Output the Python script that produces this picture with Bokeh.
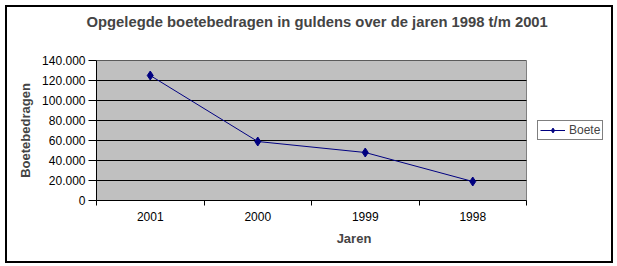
from bokeh.plotting import figure
from bokeh.models import FixedTicker, Legend, LegendItem, Title
from bokeh.embed import file_html
from bokeh.resources import INLINE

# Data
years = ["2001", "2000", "1999", "1998"]
boete = [125000, 59000, 48000, 19000]
y_ticks = [0, 20000, 40000, 60000, 80000, 100000, 120000, 140000]
y_tick_labels = ["0", "20.000", "40.000", "60.000", "80.000", "100.000", "120.000", "140.000"]
title_text = "Opgelegde boetebedragen in guldens over de jaren 1998 t/m 2001"

FONT = "Liberation Sans"
n = len(years)
xs = [i + 0.5 for i in range(n)]
y_max = y_ticks[-1]

# Layout: plot area 430 px wide, frame extended to the right to host the legend
PLOT_W = 430
FRAME_W = 515
x_end = n * FRAME_W / PLOT_W

p = figure(width=617, height=266, output_backend="svg", toolbar_location=None,
           x_range=(0, x_end), y_range=(0, y_max),
           min_border_left=96, min_border_right=617 - 96 - FRAME_W,
           min_border_top=60, min_border_bottom=66)

p.title.text = ""
# spacer between the frame and the title (nearest to the frame)
p.add_layout(Title(text=" ", text_font_size="2px", standoff=27), "above")
p.add_layout(Title(text=title_text, align="left", offset=-10, standoff=0,
                   text_font=FONT, text_font_size="14.8px", text_font_style="bold"),
             "above")

p.background_fill_color = "white"
p.border_fill_color = "white"
p.outline_line_color = None
p.xgrid.visible = False
p.ygrid.visible = False

# plot area (gray) and gridlines
p.quad(left=[0], right=[n], bottom=[0], top=[y_max],
       fill_color="#C0C0C0", line_color="#808080", line_width=1)
p.segment(x0=[0] * len(y_ticks), x1=[n] * len(y_ticks), y0=y_ticks, y1=y_ticks,
          line_color="black", line_width=1)

# y axis
p.yaxis.ticker = FixedTicker(ticks=y_ticks)
p.yaxis.major_label_overrides = {t: l for t, l in zip(y_ticks, y_tick_labels)}
p.yaxis.minor_tick_line_color = None
p.yaxis.major_tick_out = 8
p.yaxis.major_tick_in = 0
p.yaxis.major_label_standoff = 3
p.yaxis.axis_line_color = "black"
p.yaxis.major_tick_line_color = "black"
p.yaxis.major_label_text_font = FONT
p.yaxis.major_label_text_font_size = "12px"
p.yaxis.major_label_text_color = "black"
p.yaxis.axis_label = "Boetebedragen"
p.yaxis.axis_label_text_font = FONT
p.yaxis.axis_label_text_font_size = "13px"
p.yaxis.axis_label_text_font_style = "bold"
p.yaxis.axis_label_standoff = 6

# x axis: labels at centers, tick marks at category boundaries
p.xaxis.ticker = FixedTicker(ticks=xs, minor_ticks=list(range(n + 1)))
p.xaxis.major_label_overrides = {x: y for x, y in zip(xs, years)}
p.xaxis.bounds = (0, n)
p.xaxis.major_tick_out = 0
p.xaxis.major_tick_in = 0
p.xaxis.minor_tick_out = 5
p.xaxis.minor_tick_in = 0
p.xaxis.minor_tick_line_color = "black"
p.xaxis.axis_line_color = "black"
p.xaxis.major_label_standoff = 6
p.xaxis.major_label_text_font = FONT
p.xaxis.major_label_text_font_size = "12px"
p.xaxis.major_label_text_color = "black"
p.xaxis.axis_label = "Jaren"
p.xaxis.axis_label_text_font = FONT
p.xaxis.axis_label_text_font_size = "13px"
p.xaxis.axis_label_text_font_style = "bold"
p.xaxis.axis_label_standoff = 7

line = p.line(xs, boete, line_color="#000080", line_width=1)
pts = p.scatter(xs, boete, marker="diamond", size=9, fill_color="#000080", line_color="#000080")

legend = Legend(items=[LegendItem(label="Boete", renderers=[line, pts])],
                location=(441, 60), orientation="vertical",
                border_line_color="black", border_line_width=1,
                background_fill_color="white", background_fill_alpha=1,
                label_text_font=FONT, label_text_font_size="12px",
                glyph_width=25, glyph_height=12, label_height=12,
                label_standoff=4, padding=2, margin=0, spacing=0)
p.add_layout(legend, "center")

html = file_html(p, INLINE)
frame_div = ('<div style="position:absolute;left:5px;top:5px;width:604px;height:254px;'
             'border:2px solid black;pointer-events:none;z-index:10"></div>')
html = html.replace("</body>", frame_div + "</body>")
open("out.html", "w").write(html)
